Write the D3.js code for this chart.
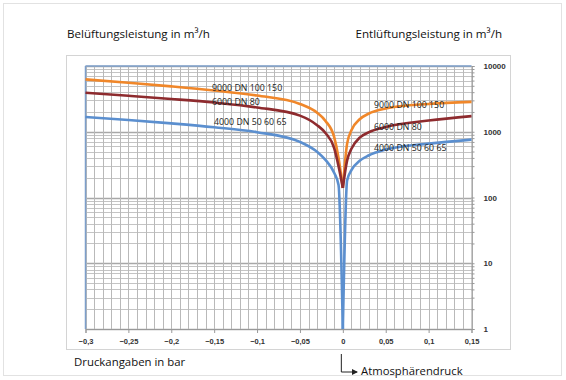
<!DOCTYPE html>
<html>
<head>
<meta charset="utf-8">
<script src="https://cdn.jsdelivr.net/npm/d3@7"></script>
<style>
  body { margin: 0; background: #fff; }
  svg { display: block; font-family: "Open Sans", "Liberation Sans", sans-serif; }
</style>
</head>
<body>
<svg id="chart" width="566" height="380"></svg>
<script>
// pressure in bar
const pressure = [-0.3, -0.25, -0.2, -0.15, -0.1, -0.05, -0.03, -0.02, -0.01, -0.005, 0,
                  0.005, 0.01, 0.02, 0.03, 0.05, 0.1, 0.15];

const flow9000 = [6260, 5550, 4900, 4250, 3550, 2650, 1950, 1450, 820, 400, 140,
                  660, 1050, 1560, 1880, 2250, 2650, 2850];
const flow6000 = [3910, 3520, 3150, 2780, 2340, 1760, 1260, 950, 560, 300, 140,
                  367, 550, 820, 980, 1180, 1480, 1730];
const flow4000 = [1680, 1510, 1340, 1170, 985, 700, 495, 370, 235, 155, 1,
                  182, 260, 365, 435, 535, 660, 760];

const xTicks = [-0.3, -0.25, -0.2, -0.15, -0.1, -0.05, 0, 0.05, 0.1, 0.15];
const yTicks = [1, 10, 100, 1000, 10000];

const seriesNames = ["9000 DN 100 150", "6000 DN 80", "4000 DN 50 60 65"];
const seriesValues = [flow9000, flow6000, flow4000];
const seriesColors = ["#f0872a", "#8e2b2e", "#5b8fcf"];

const svg = d3.select("#chart");
const plot = { left: 85.5, right: 471.5, top: 66, bottom: 329 };

// outer picture border and chart frame
svg.append("rect").attr("x", 3.5).attr("y", 3.5).attr("width", 558).attr("height", 372)
    .attr("fill", "none").attr("stroke", "#e2e2e2");
svg.append("rect").attr("x", 66.5).attr("y", 55.5).attr("width", 444).attr("height", 294)
    .attr("fill", "#fff").attr("stroke", "#d4d4d4");

const x = d3.scaleLinear().domain([-0.3, 0.15]).range([plot.left, plot.right]);
const y = d3.scaleLog().domain([1, 10000]).range([plot.bottom, plot.top]);

// minor log grid
const minorY = [];
for (let d = 1; d < 10000; d *= 10) {
    for (let k = 1; k < 10; k++) minorY.push(d * k);
}
minorY.push(10000);

svg.append("g").selectAll("line").data(minorY).join("line")
    .attr("x1", plot.left).attr("x2", plot.right)
    .attr("y1", d => Math.round(y(d)) + 0.5).attr("y2", d => Math.round(y(d)) + 0.5)
    .attr("stroke", d => yTicks.includes(d) ? "#a8a8a8" : "#c4c4c4")
    .attr("stroke-width", d => yTicks.includes(d) ? 1.5 : 1);

// vertical grid every 0.01
const gridX = d3.range(-30, 16).map(i => i / 100);
svg.append("g").selectAll("line").data(gridX).join("line")
    .attr("x1", d => Math.round(x(d)) + 0.5).attr("x2", d => Math.round(x(d)) + 0.5)
    .attr("y1", plot.top).attr("y2", plot.bottom)
    .attr("stroke", "#b9b9b9");

// plot border: top and left in blue
svg.append("line").attr("x1", plot.left).attr("x2", plot.right).attr("y1", plot.top).attr("y2", plot.top)
    .attr("stroke", "#7d9fcb").attr("stroke-width", 1.5);
svg.append("line").attr("x1", plot.left).attr("x2", plot.left).attr("y1", plot.top).attr("y2", plot.bottom)
    .attr("stroke", "#7d9fcb").attr("stroke-width", 1.5);

// axes
const xAxis = svg.append("g")
    .attr("transform", `translate(0,${plot.bottom})`)
    .call(d3.axisBottom(x).tickValues(xTicks).tickSize(4).tickPadding(6)
        .tickFormat(d => d3.format("")(d).replace(".", ",")));
xAxis.select(".domain").attr("stroke", "#999");
xAxis.selectAll(".tick line").attr("stroke", "#999");
xAxis.selectAll("text").attr("font-size", 7.5).attr("font-weight", "bold").attr("fill", "#333");

const yAxis = svg.append("g")
    .attr("transform", `translate(${plot.right},0)`)
    .call(d3.axisRight(y).tickValues(minorY).tickSize(3).tickPadding(9)
        .tickFormat(d => yTicks.includes(d) ? d : ""));
yAxis.select(".domain").attr("stroke", "#999");
yAxis.selectAll(".tick line").attr("stroke", "#999");
yAxis.selectAll("text").attr("font-size", 8).attr("font-weight", "bold").attr("fill", "#333");

// curves, split at zero into left and right halves
const line = d3.line()
    .x(d => x(d[0]))
    .y(d => y(d[1]))
    .curve(d3.curveMonotoneX);

seriesValues.forEach((vals, i) => {
    const pts = pressure.map((p, j) => [p, vals[j]]);
    const left = pts.filter(d => d[0] <= 0);
    const right = pts.filter(d => d[0] >= 0);
    [left, right].forEach(part => {
        svg.append("path")
            .datum(part)
            .attr("d", line)
            .attr("fill", "none")
            .attr("stroke", seriesColors[i])
            .attr("stroke-width", 2.6);
    });
});

// series labels on both sides
const labelLeft = [[212, 91], [212, 105], [214, 125]];
const labelRight = [[374, 108], [374, 130], [374, 151]];
seriesNames.forEach((name, i) => {
    [labelLeft[i], labelRight[i]].forEach(pos => {
        svg.append("text")
            .attr("x", pos[0]).attr("y", pos[1])
            .attr("font-size", 8.8)
            .attr("fill", "#222")
            .text(name);
    });
});

// headings
svg.append("text").attr("x", 67).attr("y", 38).attr("font-size", 11.6).attr("fill", "#111")
    .text("Belüftungsleistung in m³/h");
svg.append("text").attr("x", 502).attr("y", 38).attr("font-size", 11.6).attr("fill", "#111")
    .attr("text-anchor", "end")
    .text("Entlüftungsleistung in m³/h");
svg.append("text").attr("x", 74).attr("y", 366).attr("font-size", 11.4).attr("fill", "#111")
    .text("Druckangaben in bar");

// atmospheric pressure marker
svg.append("defs").append("marker")
    .attr("id", "arr")
    .attr("markerWidth", 6).attr("markerHeight", 6)
    .attr("refX", 5).attr("refY", 3)
    .attr("orient", "auto")
    .append("path").attr("d", "M0,0 L6,3 L0,6 Z").attr("fill", "#222");
svg.append("path")
    .attr("d", `M${x(0) - 1.5},354 V372 H357`)
    .attr("fill", "none").attr("stroke", "#222").attr("stroke-width", 1)
    .attr("marker-end", "url(#arr)");
svg.append("text").attr("x", 361).attr("y", 375).attr("font-size", 11.3).attr("fill", "#111")
    .text("Atmosphärendruck");
</script>
</body>
</html>
